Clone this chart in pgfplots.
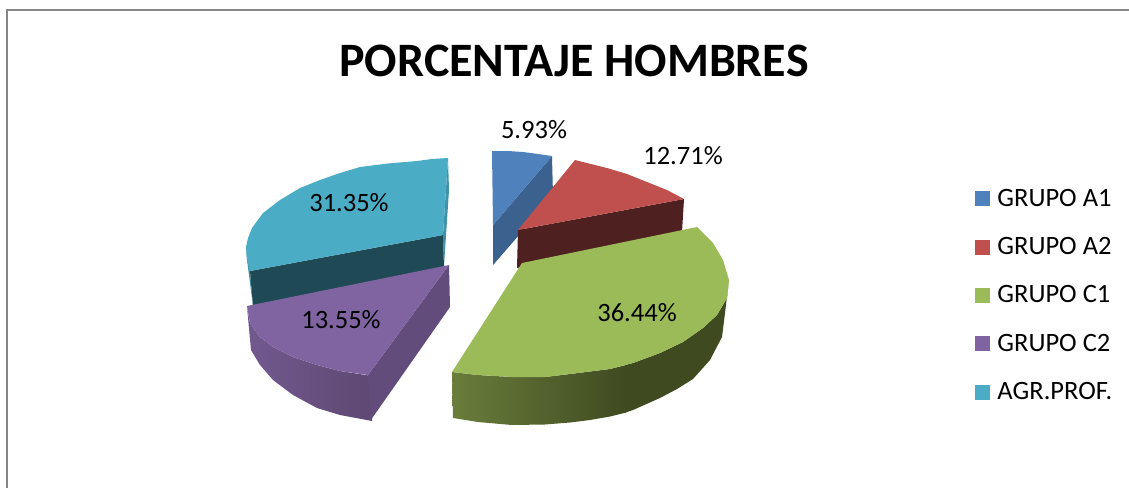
\documentclass[border=0pt]{standalone}
\usepackage{pgfplots}
\pgfplotsset{compat=1.18}
\usepackage{fontspec}
\setmainfont{Carlito}
\definecolor{cA}{HTML}{4F81BD}\definecolor{cAs}{HTML}{3B618F}
\definecolor{cB}{HTML}{C0504D}\definecolor{cBs}{HTML}{4F2020}
\definecolor{cC}{HTML}{9BBB59}\definecolor{cCl}{HTML}{6A7D3C}\definecolor{cCd}{HTML}{3F4A20}
\definecolor{cD}{HTML}{8064A2}\definecolor{cDs}{HTML}{614C7B}\definecolor{cDl}{HTML}{72598F}\definecolor{cDd}{HTML}{5F4872}
\definecolor{cE}{HTML}{4BACC6}\definecolor{cEs}{HTML}{3F92A8}\definecolor{cEd}{HTML}{1F4A55}
\begin{document}
\begin{tikzpicture}
\begin{axis}[
  scale only axis, width=1129pt, height=488pt,
  xmin=0, xmax=1129, ymin=0, ymax=488, y dir=reverse,
  hide axis, clip=true,
  every axis plot/.append style={forget plot},
  legend image code/.code={\fill[#1,draw=none] (0pt,0pt) rectangle (15pt,15pt);\path (22pt,-32.6pt) (0pt,15.4pt);},
  legend style={at={(axis cs:975,190.5)}, anchor=north west, draw=none, fill=none,
    font=\fontsize{26.5}{30}\selectfont, inner sep=0pt, outer sep=0pt,
    row sep=0pt, nodes={inner sep=0pt, anchor=base west, text height=15.5pt, text depth=0pt}},
  legend cell align=left,
]
% frame
\addplot[color=black!47, line width=2pt] coordinates {(1129,10) (6.5,10) (6.5,488)};
% teal side strips and inner wall
\addplot[fill=cEs, draw=none] coordinates {(448,158) (449,190) (444,266) (443,235)} --cycle;
\addplot[fill=cEs, draw=none] coordinates {(246,247) (247,260) (253,306) (250,271)} --cycle;
\addplot[fill=cEd, draw=none] coordinates {(250,271) (443,235) (444,268) (253,306)} --cycle;
% teal top
\addplot[fill=cE, draw=none] coordinates {(448,158) (432,159) (417,161) (388,163.5) (360,167) (340,173) (320,180) (300,188) (280,200) (263,213) (252,228) (248,238) (246,247) (247,260) (250,271) (443,235)} --cycle;
% purple
\addplot[left color=cDl, right color=cDd, draw=none] coordinates {(247,307) (250,323) (260,337) (273,347) (293,357) (317,365) (340,371) (372,376) (372,421) (340,415) (317,408) (293,395) (273,380) (260,365) (251,350)} --cycle;
\addplot[fill=cDs, draw=none] coordinates {(449,265) (450,307) (370.5,420.5) (368,375)} --cycle;
\addplot[fill=cD, draw=none] coordinates {(449,265) (247,306) (250,323) (260,337) (273,347) (293,357) (317,365) (340,371) (368,375)} --cycle;
% blue
\addplot[fill=cAs, draw=none] coordinates {(552,156) (553,196) (493,265) (493,225)} --cycle;
\addplot[fill=cA, draw=none] coordinates {(492,151) (508,151) (523,152) (538,154) (552,156) (493,225)} --cycle;
% red
\addplot[fill=cBs, draw=none] coordinates {(684,199) (682,232) (517,268) (518,230)} --cycle;
\addplot[fill=cB, draw=none] coordinates {(575,160) (591,164) (607,168) (627,174) (647,182) (667,190) (684,199) (518,230)} --cycle;
% green
\addplot[left color=cCl, right color=cCd, draw=none] coordinates {(452,372) (478,375) (512,377) (545,377) (578,373) (610,369) (626,365) (626,412.5) (610,416.5) (590,420) (570,422.5) (545,424.5) (512,425) (478,422) (453,418)} --cycle;
\addplot[fill=cCd, draw=none] coordinates {(625,365) (633,363) (660,353) (683,342) (703,328) (717,315) (727,298) (729,280) (725,313) (722,337) (710,360) (693,379) (677,389) (660,398) (633,410) (625,412.7)} --cycle;
\addplot[fill=cC, draw=none] coordinates {(522,263) (697,227) (713,243) (723,260) (729,280) (727,298) (717,315) (703,328) (683,342) (660,353) (633,363) (610,369) (578,373) (545,377) (512,377) (478,375) (452,372)} --cycle;
% labels
\node[font=\fontsize{26.5}{30}\selectfont] at (axis cs:534,130) {5.93\%};
\node[font=\fontsize{26.5}{30}\selectfont] at (axis cs:683,156) {12.71\%};
\node[font=\fontsize{26.5}{30}\selectfont] at (axis cs:349,203) {31.35\%};
\node[font=\fontsize{26.5}{30}\selectfont] at (axis cs:341,320) {13.55\%};
\node[font=\fontsize{26.5}{30}\selectfont] at (axis cs:637,313) {36.44\%};
\node[font=\fontsize{48}{57}\selectfont\bfseries] at (axis cs:574,61) {PORCENTAJE HOMBRES};
% legend
\addlegendimage{fill=cA}\addlegendentry{GRUPO A1}
\addlegendimage{fill=cB}\addlegendentry{GRUPO A2}
\addlegendimage{fill=cC}\addlegendentry{GRUPO C1}
\addlegendimage{fill=cD}\addlegendentry{GRUPO C2}
\addlegendimage{fill=cE}\addlegendentry{AGR.PROF.}
\end{axis}
\path (current axis.south west) (current axis.north east);
\end{tikzpicture}
\end{document}
